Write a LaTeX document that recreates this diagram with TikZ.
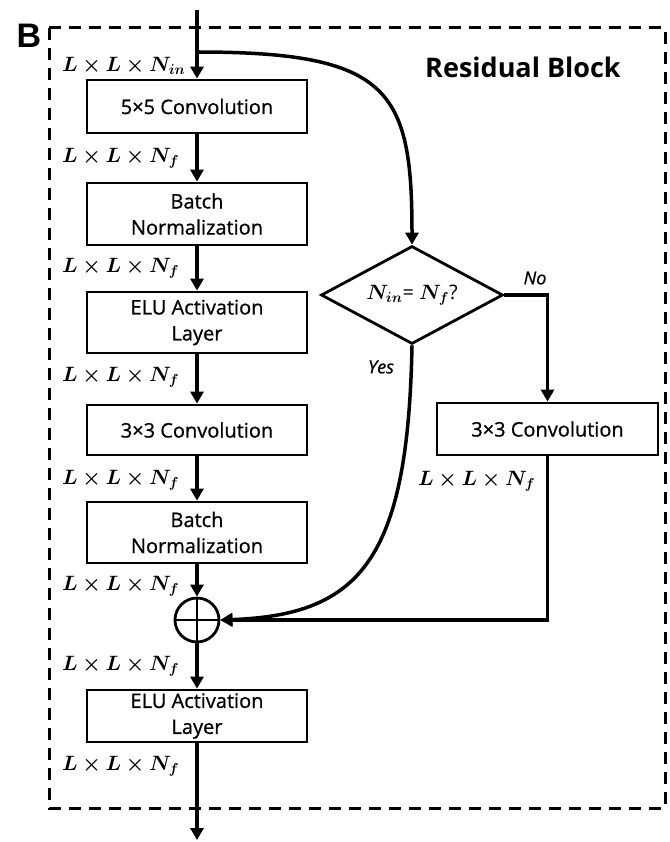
\documentclass[tikz,border=0pt]{standalone}
\usepackage{amsmath,bm}
\usepackage{fontspec}
\setmainfont{Open Sans}
\newfontfamily\bfont{Liberation Sans}
\newfontfamily\boxfont{Open Sans}[FakeBold=0.8, ItalicFeatures={FakeBold=0.8}]
\usetikzlibrary{shapes.geometric,arrows.meta}
\begin{document}
\begin{tikzpicture}[x=1pt,y=-1pt,
  blk/.style={draw, line width=2.8pt, minimum width=220pt, align=center,
    font=\boxfont\fontsize{20}{26}\selectfont, inner sep=0pt},
  flow/.style={line width=3.5pt, -{Triangle[length=12pt,width=13pt]}},
  dimlbl/.style={font=\fontsize{20.5}{24}\selectfont, anchor=west, inner sep=0pt},
  yn/.style={font=\boxfont\fontsize{18}{20}\selectfont\itshape, inner sep=0pt}]
\useasboundingbox (0,0) rectangle (669,842);
\draw[line width=3pt, dash pattern=on 12pt off 8pt] (49,28) rectangle (665,808);
\node[font=\bfont\bfseries\fontsize{34}{36}\selectfont, inner sep=0pt] (B) at (29,36) {B};
\node[font=\fontsize{27}{30}\selectfont\bfseries, inner sep=0pt] (title) at (523,67) {Residual Block};

% main column
\coordinate (top) at (197,10);
\coordinate (split) at (197,52);
\node[blk, minimum height=53pt] (conv5) at (197,106.5) {5×5 Convolution};
\node[blk, minimum height=62pt] (bn1) at (197,214) {Batch\\Normalization};
\node[blk, minimum height=61pt] (elu1) at (197,322.5) {ELU Activation\\Layer};
\node[blk, minimum height=50pt] (conv3) at (197,430) {3×3 Convolution};
\node[blk, minimum height=61pt] (bn2) at (197,532.5) {Batch\\Normalization};
\node[draw, circle, line width=2.8pt, minimum size=44pt, inner sep=0pt] (plus) at (197,620) {};
\draw[line width=2.8pt] (plus.north) -- (plus.south) (plus.west) -- (plus.east);
\node[blk, minimum height=52pt] (elu2) at (197,716) {ELU Activation\\Layer};
\coordinate (bottom) at (197,840);

% side branch
\node[draw, diamond, aspect=1.86, line width=2.8pt, minimum width=182pt, minimum height=98pt, inner sep=0pt,
  font=\fontsize{20}{24}\selectfont] (test) at (412,295) {$\bm{N_{in}}$= $\bm{N_f}$?};
\node[blk, minimum width=221pt, minimum height=52pt] (conv3r) at (547.5,429) {3×3 Convolution};

% dimension labels
\node[dimlbl] (d0) at (62,66) {$\bm{L\times L\times N_{in}}$};
\node[dimlbl] (d1) at (62,158) {$\bm{L\times L\times N_f}$};
\node[dimlbl] (d2) at (62,268) {$\bm{L\times L\times N_f}$};
\node[dimlbl] (d3) at (62,377) {$\bm{L\times L\times N_f}$};
\node[dimlbl] (d4) at (62,480) {$\bm{L\times L\times N_f}$};
\node[dimlbl] (d5) at (62,586) {$\bm{L\times L\times N_f}$};
\node[dimlbl] (d6) at (62,666) {$\bm{L\times L\times N_f}$};
\node[dimlbl] (d7) at (62,766) {$\bm{L\times L\times N_f}$};
\node[dimlbl] (d8) at (418,481) {$\bm{L\times L\times N_f}$};
\node[yn] (no) at (535,278) {No};
\node[yn] (yes) at (381,367) {Yes};

% connectors
\draw[flow] (top) -- (conv5.north);
\draw[flow] (conv5) -- (bn1);
\draw[flow] (bn1) -- (elu1);
\draw[flow] (elu1) -- (conv3);
\draw[flow] (conv3) -- (bn2);
\draw[flow] (bn2) -- (plus.north);
\draw[flow] (plus.south) -- (elu2.north);
\draw[flow] (elu2) -- (bottom);
\draw[flow] (split) .. controls (390,52) and (412,90) .. (test.north);
\draw[flow] (test.east) -| (conv3r.north);
\draw[flow] (conv3r.south) |- (plus.east);
\draw[flow] (test.south) .. controls (408,560) and (360,615) .. (plus.east);
\end{tikzpicture}
\end{document}
